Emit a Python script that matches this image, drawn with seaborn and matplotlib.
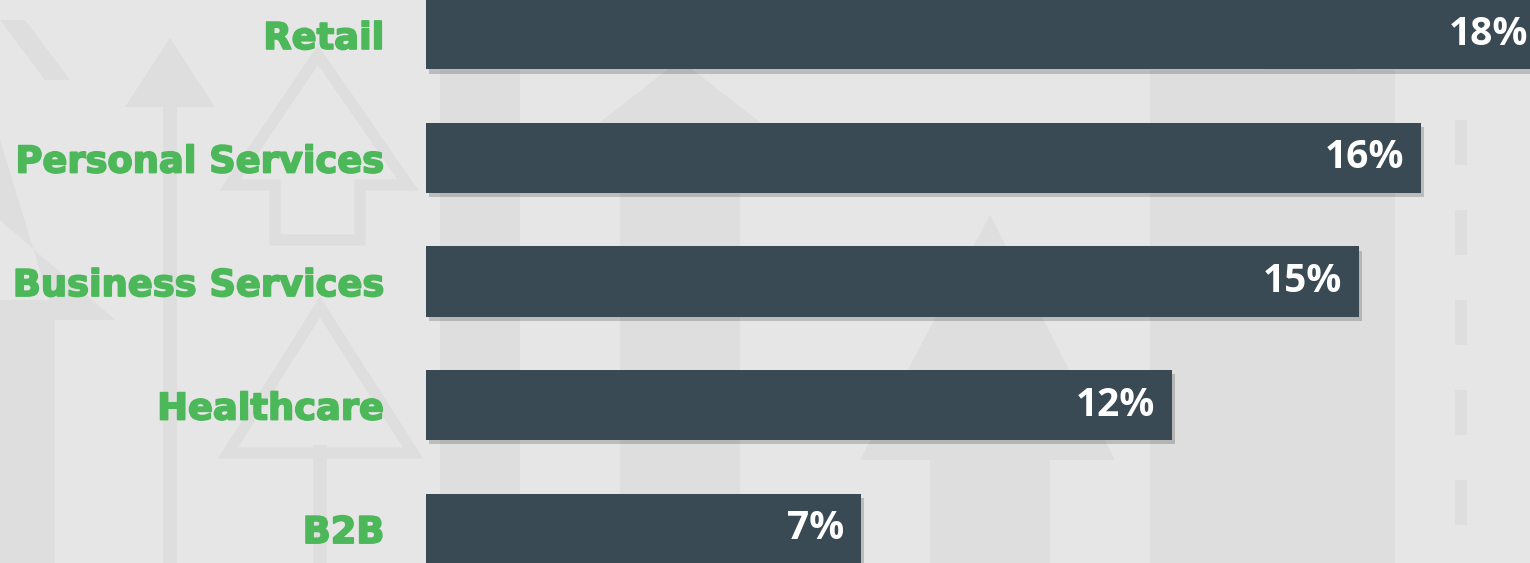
import matplotlib as mpl
import matplotlib.pyplot as plt
import matplotlib.patheffects as pe
from matplotlib.patches import Polygon, Rectangle
import pandas as pd
import seaborn as sb

categories = ["Retail", "Personal Services", "Business Services", "Healthcare", "B2B"]
shares = [18, 16, 15, 12, 7]
value_labels = ["18%", "16%", "15%", "12%", "7%"]

bg = "#e6e6e6"
deco = "#dedede"
bar_col = "#3a4a55"
green = "#4cb85a"

sb.set_style("white")
mpl.rcParams["font.family"] = ["DejaVu Sans"]

W, H = 1530, 563
fig = plt.figure(figsize=(W / 100, H / 100), dpi=100, facecolor=bg)

# faint background arrows (decoration only), in pixel coords of the figure
def px(points):
    return [(x / W, 1 - y / H) for x, y in points]

shapes = [
    # left side
    dict(pts=[(125, 107), (170, 38), (215, 107), (177, 107), (177, 563), (163, 563), (163, 107)], fill=True),
    dict(pts=[(0, 300), (0, 563), (55, 563), (55, 300)], fill=True),
    dict(pts=[(0, 140), (0, 220), (115, 320), (55, 320)], fill=True),
    dict(pts=[(230, 185), (318, 55), (408, 185), (360, 185), (360, 240), (275, 240), (275, 185)], fill=False),
    dict(pts=[(228, 453), (320, 307), (413, 453)], fill=False),
    dict(pts=[(313, 445), (327, 445), (327, 563), (313, 563)], fill=True),
    dict(pts=[(0, 20), (45, 80), (70, 80), (25, 20)], fill=True),
    # behind the bars
    dict(pts=[(440, 70), (520, 70), (520, 563), (440, 563)], fill=True),
    dict(pts=[(590, 130), (680, 60), (770, 130), (740, 130), (740, 563), (620, 563), (620, 130)], fill=True),
    dict(pts=[(860, 460), (990, 215), (1115, 460), (1050, 460), (1050, 563), (930, 563), (930, 460)], fill=True),
    dict(pts=[(1150, 70), (1395, 70), (1395, 563), (1150, 563)], fill=True),
    dict(pts=[(1255, 80), (1310, 20), (1365, 80)], fill=True),
]
for s in shapes:
    if s["fill"]:
        fig.patches.append(Polygon(px(s["pts"]), closed=True, transform=fig.transFigure,
                                   facecolor=deco, edgecolor="none", zorder=0))
    else:
        fig.patches.append(Polygon(px(s["pts"]), closed=True, transform=fig.transFigure,
                                   facecolor="none", edgecolor=deco, linewidth=8, zorder=0))
for y0 in range(120, 563, 90):
    fig.patches.append(Rectangle((1455 / W, 1 - (y0 + 45) / H), 12 / W, 45 / H,
                                 transform=fig.transFigure, facecolor=deco, edgecolor="none", zorder=0))

ax = fig.add_axes([426 / W, 0, 1 - 426 / W, 1])
ax.set_zorder(2)
ax.patch.set_alpha(0)

df = pd.DataFrame({"category": categories, "share": shares})
sb.barplot(data=df, x="share", y="category", orient="h", color=bar_col,
           width=0.567, saturation=1, ax=ax, zorder=3)

for p in ax.patches:
    p.set_linewidth(0)
    p.set_path_effects([pe.SimplePatchShadow(offset=(2, -3), shadow_rgbFace="#000000", alpha=0.18),
                        pe.Normal()])

for i, (v, lab) in enumerate(zip(shares, value_labels)):
    ax.annotate(lab, xy=(v, i), xytext=(-12.5, 0), textcoords="offset points",
                ha="right", va="center", color="white", fontsize=28,
                fontweight="bold", family=["Open Sans", "DejaVu Sans"], zorder=5,
                annotation_clip=False)

ax.set_xlim(0, 17.75)
ax.set_ylim(4.279, -0.279)
ax.set_xlabel("")
ax.set_ylabel("")
ax.set_xticks([])
ax.tick_params(axis="y", length=0, pad=30)
for t in ax.get_yticklabels():
    t.set_color(green)
    t.set_fontsize(26.5)
    t.set_fontweight("bold")
    t.set_path_effects([pe.withStroke(linewidth=1.3, foreground=green)])
for sp in ax.spines.values():
    sp.set_visible(False)

fig.savefig("out.png", dpi=100, facecolor=bg)
